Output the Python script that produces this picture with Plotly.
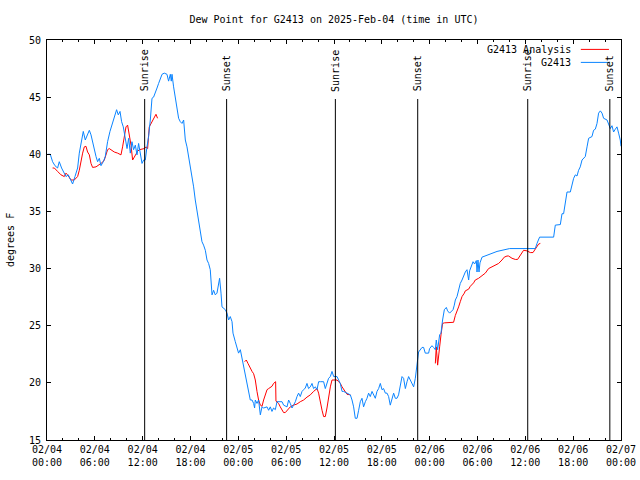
import plotly.graph_objects as go
import pandas as pd

# ---- data (hours since 2025-02-04 00:00 UTC, dew point in deg F) ----
blue_hours = [0.08,0.41,0.70,1.00,1.33,1.54,1.83,2.17,2.38,2.67,2.92,3.21,3.51,3.84,4.05,4.26,4.55,4.80,5.02,5.31,
              5.52,5.72,5.93,6.15,6.35,6.56,6.77,7.06,7.31,7.60,7.90,8.23,8.44,8.73,8.94,9.16,9.36,9.57,9.78,10.04,
              10.24,10.45,10.66,10.86,11.08,11.29,11.49,11.70,11.92,12.12,12.33,12.54,12.74,12.96,13.17,13.37,13.59,13.80,14.00,14.21,
              14.43,14.71,15.05,15.25,15.47,15.59,15.68,15.88,16.09,16.22,16.31,16.51,16.72,16.93,17.14,17.22,17.35,17.56,17.76,17.98,
              18.19,18.39,18.60,18.82,19.02,19.23,19.44,19.64,19.86,20.07,20.27,20.48,20.61,20.70,20.90,21.11,21.32,21.53,21.65,21.83,
              21.95,22.37,22.58,22.78,22.99,23.21,23.33,23.62,23.83,24.03,24.25,24.46,24.66,24.87,25.09,25.29,25.50,25.72,25.92,26.04,
              26.13,26.34,26.54,26.76,26.97,27.17,27.60,27.80,28.01,28.22,28.42,28.64,28.85,29.48,29.68,30.11,30.31,30.52,30.73,30.93,
              31.15,31.36,31.56,31.77,31.99,32.19,32.40,32.61,32.81,33.03,33.24,33.44,33.66,33.87,34.07,34.28,34.70,34.91,35.12,35.32,
              35.54,35.75,35.96,36.38,36.58,36.79,37.01,37.21,37.63,38.05,38.26,38.46,38.67,38.89,39.09,39.30,39.51,39.71,39.93,40.14,
              40.34,40.55,40.77,40.97,41.18,41.39,41.60,41.81,42.02,42.22,42.44,42.65,42.85,43.06,43.28,43.48,43.69,43.90,44.10,44.32,
              44.53,44.73,44.95,45.16,45.36,45.57,45.79,45.99,46.20,46.32,46.49,46.61,47.04,47.24,47.45,47.87,47.99,48.29,48.49,48.71,
              48.83,49.00,49.25,49.42,49.62,49.84,50.09,50.25,50.50,50.71,50.93,51.09,51.22,51.43,51.63,51.84,52.06,52.26,52.47,52.68,
              52.89,53.01,53.19,53.44,53.64,53.85,53.94,54.06,54.19,54.31,54.57,55.39,56.45,58.03,61.25,61.46,61.79,63.55,63.76,64.39,
              64.60,64.80,65.02,65.23,65.64,66.06,66.27,66.48,66.68,66.89,67.11,67.31,67.52,67.74,67.94,68.36,68.56,68.78,68.99,69.19,
              69.41,69.62,69.82,70.25,70.45,70.66,70.87,71.07,71.29,71.50,71.70,71.91,72.00]
blue_values = [40.0,40.0,39.35,39.0,38.8,39.35,38.8,38.4,38.05,38.2,37.75,37.4,38.05,38.8,40.1,41.0,42.0,41.25,41.7,42.1,
               41.7,41.0,40.5,39.8,39.35,39.65,39.0,39.35,39.8,41.1,42.0,42.85,43.3,43.9,43.45,43.75,42.85,42.4,41.55,40.5,
               41.4,40.1,41.1,40.4,40.8,39.95,40.95,40.1,39.2,39.5,39.5,40.65,41.55,43.0,44.9,45.0,45.5,45.8,46.2,46.65,
               47.0,47.1,47.0,46.4,47.0,46.4,47.0,45.9,45.0,44.45,43.75,43.15,42.85,42.7,43.0,42.4,41.25,40.65,39.8,38.9,
               38.2,37.15,36.0,35.1,34.25,33.4,32.35,32.05,31.6,30.75,30.45,29.9,28.1,27.7,28.1,27.7,27.85,28.7,29.15,27.85,
               26.65,26.4,26.1,25.5,25.8,25.35,24.35,23.6,23.0,22.6,22.9,22.15,21.4,20.7,19.95,19.25,18.5,18.5,18.2,17.8,
               18.5,18.2,18.5,17.2,17.9,17.8,17.9,17.6,17.9,17.5,17.8,17.65,18.35,18.35,18.05,17.9,18.5,18.2,17.8,18.05,
               18.35,18.8,19.1,18.8,19.25,19.4,19.55,19.95,19.5,19.65,19.95,19.5,19.65,19.4,20.1,20.1,20.1,19.5,20.1,20.4,
               20.55,21.0,20.55,20.55,20.25,19.95,19.25,19.25,19.1,18.95,18.5,17.9,16.9,16.9,17.6,18.35,18.65,17.9,18.35,18.65,
               19.1,18.8,19.25,18.95,18.65,19.25,19.5,19.95,19.4,19.5,19.1,19.1,18.8,18.05,18.5,19.1,18.65,18.65,18.95,19.8,
               20.55,20.4,19.5,20.1,20.55,20.25,19.95,19.65,20.4,21.1,22.15,22.7,23.1,23.1,22.6,22.6,23.0,23.25,23.1,22.9,
               23.75,22.9,24.2,24.35,25.5,26.4,26.6,26.3,26.1,26.25,26.4,26.8,27.25,27.55,28.1,28.7,29.0,29.45,29.7,29.9,
               29.0,29.8,30.15,30.6,30.4,30.7,29.7,30.75,29.7,30.5,31.0,31.2,31.5,31.75,31.75,32.2,32.75,32.75,33.8,33.85,
               34.8,34.8,35.7,36.7,36.7,37.9,38.2,38.1,38.6,38.9,39.5,39.65,39.8,40.65,41.4,41.55,42.1,42.2,42.7,43.6,
               43.8,43.6,43.15,43.0,42.7,42.25,42.5,41.95,42.2,42.4,41.85,41.25,40.7]

red_hours = [0.70,0.92,1.33,1.76,2.17,2.38,2.58,2.80,3.01,3.42,3.64,3.84,4.05,4.26,4.47,4.68,4.89,5.09,5.31,5.52,
             5.72,6.15,6.35,6.77,6.97,7.19,7.40,7.60,7.81,8.03,8.44,8.86,9.28,9.48,9.70,9.91,10.11,10.32,10.54,10.74,
             10.95,11.16,11.36,11.58,12.21,12.42,12.62,12.83,13.05,13.25,13.46,13.67,13.87,
             None,
             24.79,25.00,25.21,25.50,25.72,25.92,26.13,26.34,26.54,26.76,26.97,27.17,27.38,27.60,27.80,28.01,28.22,28.42,28.64,28.68,
             28.72,29.05,29.26,29.48,29.68,29.89,30.11,30.31,30.52,30.93,31.36,31.77,32.19,32.61,33.03,33.44,33.66,33.87,34.07,34.28,
             34.50,34.70,34.91,35.12,35.32,35.54,35.75,36.17,36.38,36.58,36.79,37.01,37.21,37.42,37.63,38.05,
             None,
             48.71,48.83,49.00,49.12,49.25,49.42,49.62,49.84,51.00,51.22,51.43,51.63,51.84,52.06,52.35,52.47,52.89,53.10,53.51,53.72,
             54.14,54.57,54.98,55.39,55.82,56.23,56.65,57.07,57.36,57.70,57.90,58.33,58.74,59.03,59.37,59.78,60.21,60.62,60.96,61.25,
             61.46,61.67,61.88]
red_values = [38.8,38.8,38.5,38.2,38.05,38.35,38.2,37.9,37.75,37.75,37.9,38.05,38.6,39.5,40.1,40.65,40.7,40.2,39.95,39.2,
              38.85,38.9,39.0,39.15,39.3,39.5,39.95,40.4,40.5,40.4,40.2,40.1,39.95,40.65,41.55,42.4,42.55,41.8,40.8,39.5,
              39.8,40.1,40.25,40.4,40.5,40.65,40.5,42.4,42.7,43.0,43.3,43.5,43.15,
              None,
              21.85,22.0,21.7,21.25,21.0,20.8,20.25,19.25,18.5,18.05,17.95,18.5,18.95,19.4,19.5,19.6,19.7,19.95,20.1,20.1,
              18.4,18.2,17.9,17.6,17.4,17.4,17.55,17.7,17.9,18.05,18.15,18.35,18.5,18.75,18.95,19.25,19.4,19.5,19.1,18.2,
              17.6,17.05,17.05,17.8,18.8,19.65,20.25,20.25,20.25,20.1,19.95,19.65,19.4,19.15,19.0,18.95,
              None,
              21.7,23.15,21.55,22.6,23.15,24.2,25.2,25.25,25.3,25.9,26.4,26.65,27.1,27.55,27.85,28.05,28.2,28.45,28.75,29.0,
              29.15,29.35,29.6,30.0,30.15,30.3,30.45,30.75,31.0,31.1,31.1,30.9,30.8,30.8,31.2,31.6,31.55,31.4,31.4,31.7,
              31.9,32.15,32.2]

sun_hours = [12.25, 22.53, 36.17, 46.50, 60.30, 70.60]
sun_labels = ["Sunrise", "Sunset", "Sunrise", "Sunset", "Sunrise", "Sunset"]

y_ticks = [15, 20, 25, 30, 35, 40, 45, 50]
x_tick_hours = list(range(0, 73, 6))

title_text = "Dew Point for G2413 on 2025-Feb-04 (time in UTC)"
series_names = ["G2413 Analysis", "G2413"]
series_colors = ["#ff0000", "#0a84ff"]

# ---- build ----
base = pd.Timestamp("2025-02-04 00:00")


def to_time(h):
    return None if h is None else base + pd.Timedelta(hours=h)


FONT = "DejaVu Sans Mono"
FS = 10

W, H = 640, 480
ML, MT = 47, 40
MR, MB = W - ML - 574, H - MT - 400

fig = go.Figure()
fig.add_trace(go.Scatter(x=[to_time(h) for h in red_hours], y=red_values, mode="lines",
                         name=series_names[0], line=dict(color=series_colors[0], width=1),
                         connectgaps=False, showlegend=False))
fig.add_trace(go.Scatter(x=[to_time(h) for h in blue_hours], y=blue_values, mode="lines",
                         name=series_names[1], line=dict(color=series_colors[1], width=1),
                         showlegend=False))

line_top = 0.8525
for h, lab in zip(sun_hours, sun_labels):
    t = to_time(h)
    fig.add_shape(type="line", xref="x", yref="paper", x0=t, x1=t, y0=0, y1=line_top,
                  line=dict(color="black", width=1))
    fig.add_annotation(x=t, xref="x", y=0.866, yref="paper", text=lab, textangle=-90,
                       showarrow=False, xanchor="center", yanchor="bottom",
                       font=dict(family=FONT, size=FS, color="black"))

# legend drawn gnuplot-style (text left of sample)
leg_y = [0.9765, 0.944]
for name, col, yy in zip(series_names, series_colors, leg_y):
    fig.add_annotation(x=0.9165, xref="paper", y=yy, yref="paper", text=name, showarrow=False,
                       xanchor="right", yanchor="middle", font=dict(family=FONT, size=FS, color="black"))
    fig.add_shape(type="line", xref="paper", yref="paper", x0=0.930, x1=0.979, y0=yy, y1=yy,
                  line=dict(color=col, width=1))

fig.add_annotation(x=(10 - ML) / 574, xref="paper", y=0.5, yref="paper", text="degrees F", textangle=-90,
                   showarrow=False, xanchor="center", yanchor="middle",
                   font=dict(family=FONT, size=FS, color="black"))

fig.update_layout(
    width=W, height=H,
    margin=dict(l=ML, r=MR, t=MT, b=MB, pad=0),
    paper_bgcolor="white", plot_bgcolor="white",
    font=dict(family=FONT, size=FS, color="black"),
    title=dict(text=title_text, x=0.5, xref="paper", y=1 - 19 / H, yref="container",
               xanchor="center", yanchor="middle", font=dict(family=FONT, size=FS, color="black")),
    showlegend=False,
)
fig.update_xaxes(
    type="date", range=[base, base + pd.Timedelta(hours=72)],
    tickvals=[to_time(h) for h in x_tick_hours], tickformat="%m/%d<br>%H:%M",
    ticks="inside", ticklen=4, tickcolor="black", showgrid=False, zeroline=False,
    showline=True, linecolor="black", linewidth=1, mirror="allticks", automargin=False,
    minor=dict(dtick=2 * 3600 * 1000, ticks="inside", ticklen=2, tickcolor="black", showgrid=False),
    tickfont=dict(family=FONT, size=FS, color="black"),
)
fig.update_yaxes(
    range=[15, 50], tickvals=y_ticks, ticks="inside", ticklen=4, tickcolor="black",
    showgrid=False, zeroline=False, showline=True, linecolor="black", linewidth=1,
    mirror="allticks", automargin=False, ticklabelstandoff=3,
    tickfont=dict(family=FONT, size=FS, color="black"),
)

# remove the browser's default page margin so the 640x480 figure fills the window exactly
fig.write_html("out.html", config={"displayModeBar": False},
               post_script="document.body.style.margin='0px';")
